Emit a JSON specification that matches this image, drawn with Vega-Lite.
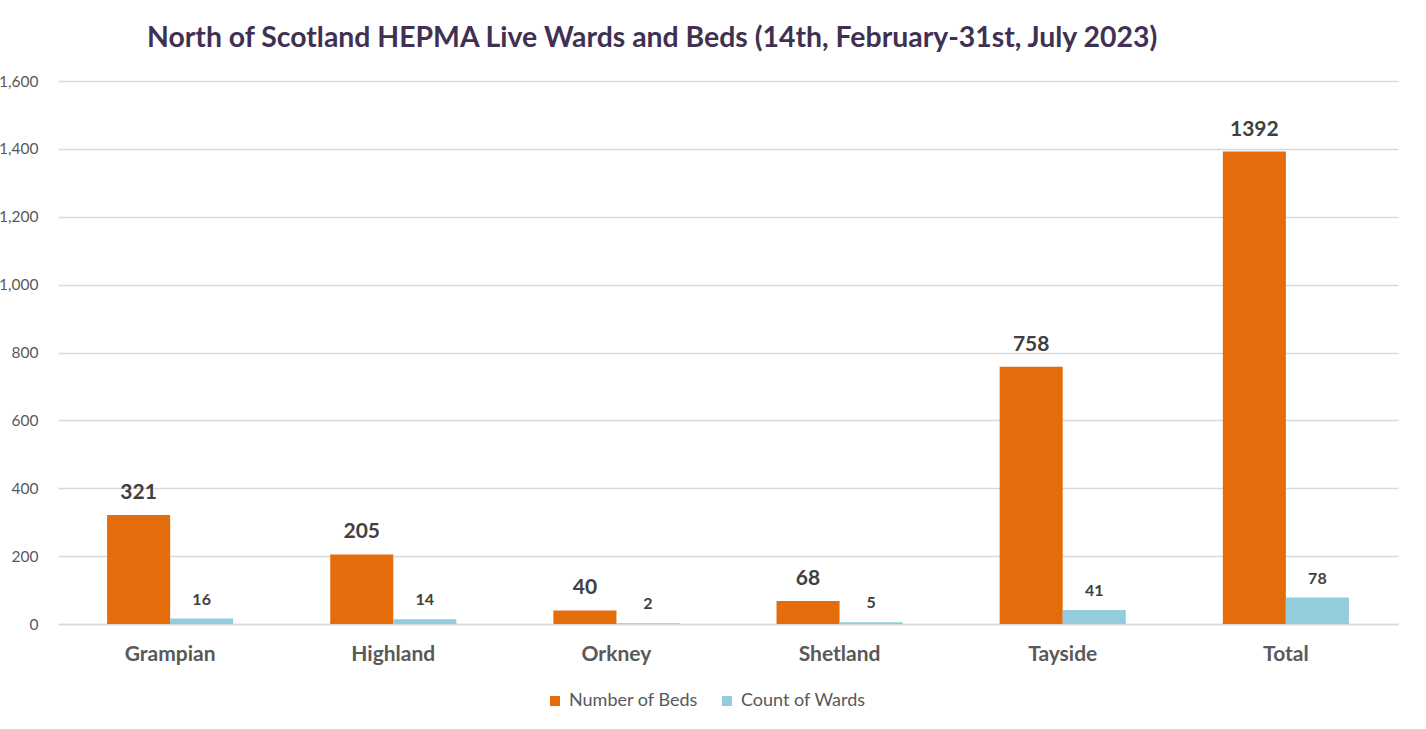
{
  "$schema": "https://vega.github.io/schema/vega-lite/v6.json",
  "autosize": {"type": "none"},
  "width": 1340,
  "height": 543,
  "padding": {"left": 58, "top": 81, "right": 28, "bottom": 105},
  "background": "white",
  "title": {
    "text": "North of Scotland HEPMA Live Wards and Beds (14th, February-31st, July 2023)",
    "anchor": "start",
    "frame": "group",
    "dx": 89,
    "dy": 32,
    "offset": 31,
    "baseline": "alphabetic",
    "font": "Lato",
    "fontSize": 28.4,
    "fontWeight": "bold",
    "color": "#403152"
  },
  "data": {
    "values": [
      {"region": "Grampian", "series": "Number of Beds", "value": 321},
      {"region": "Grampian", "series": "Count of Wards", "value": 16},
      {"region": "Highland", "series": "Number of Beds", "value": 205},
      {"region": "Highland", "series": "Count of Wards", "value": 14},
      {"region": "Orkney", "series": "Number of Beds", "value": 40},
      {"region": "Orkney", "series": "Count of Wards", "value": 2},
      {"region": "Shetland", "series": "Number of Beds", "value": 68},
      {"region": "Shetland", "series": "Count of Wards", "value": 5},
      {"region": "Tayside", "series": "Number of Beds", "value": 758},
      {"region": "Tayside", "series": "Count of Wards", "value": 41},
      {"region": "Total", "series": "Number of Beds", "value": 1392},
      {"region": "Total", "series": "Count of Wards", "value": 78}
    ]
  },
  "encoding": {
    "x": {
      "field": "region",
      "type": "nominal",
      "sort": null,
      "scale": {"paddingInner": 0.435, "paddingOuter": 0.22},
      "axis": {
        "title": null,
        "labelAngle": 0,
        "labelFont": "Lato",
        "labelFontSize": 21,
        "labelFontWeight": "bold",
        "labelColor": "#595959",
        "labelPadding": 19,
        "ticks": false,
        "domain": true,
        "domainColor": "#d9d9d9",
        "domainWidth": 1.5
      }
    },
    "xOffset": {
      "field": "series",
      "type": "nominal",
      "scale": {"domain": ["Number of Beds", "Count of Wards"], "paddingInner": 0, "paddingOuter": 0}
    },
    "y": {
      "field": "value",
      "type": "quantitative",
      "scale": {"domain": [0, 1600], "nice": false},
      "axis": {
        "title": null,
        "values": [0, 200, 400, 600, 800, 1000, 1200, 1400, 1600],
        "format": ",d",
        "labelFont": "Lato",
        "labelFontSize": 15.5,
        "labelColor": "#595959",
        "labelPadding": 20,
        "ticks": false,
        "domain": false,
        "grid": true,
        "gridColor": "#d9d9d9",
        "gridWidth": 1.5
      }
    }
  },
  "layer": [
    {
      "mark": {"type": "bar"},
      "encoding": {
        "color": {
          "field": "series",
          "type": "nominal",
          "scale": {"domain": ["Number of Beds", "Count of Wards"], "range": ["#E46C0A", "#93CDDD"]},
          "legend": {
            "title": null,
            "orient": "none",
            "legendX": 488,
            "legendY": 611,
            "direction": "horizontal",
            "symbolType": "square",
            "symbolSize": 100,
            "symbolStrokeWidth": 0,
            "labelFont": "Lato",
            "labelFontSize": 18,
            "labelColor": "#595959",
            "labelOffset": 5,
            "columnPadding": 20
          }
        }
      }
    },
    {
      "transform": [{"filter": "datum.series === 'Number of Beds'"}],
      "mark": {"type": "text", "baseline": "alphabetic", "dy": -16, "font": "Lato", "fontSize": 21, "fontWeight": "bold", "color": "#404040"},
      "encoding": {"text": {"field": "value", "type": "quantitative", "format": "d"}}
    },
    {
      "transform": [{"filter": "datum.series === 'Count of Wards'"}],
      "mark": {"type": "text", "baseline": "alphabetic", "dy": -14, "font": "Lato", "fontSize": 16, "fontWeight": "bold", "color": "#404040"},
      "encoding": {"text": {"field": "value", "type": "quantitative", "format": "d"}}
    }
  ],
  "config": {"view": {"stroke": null}}
}
